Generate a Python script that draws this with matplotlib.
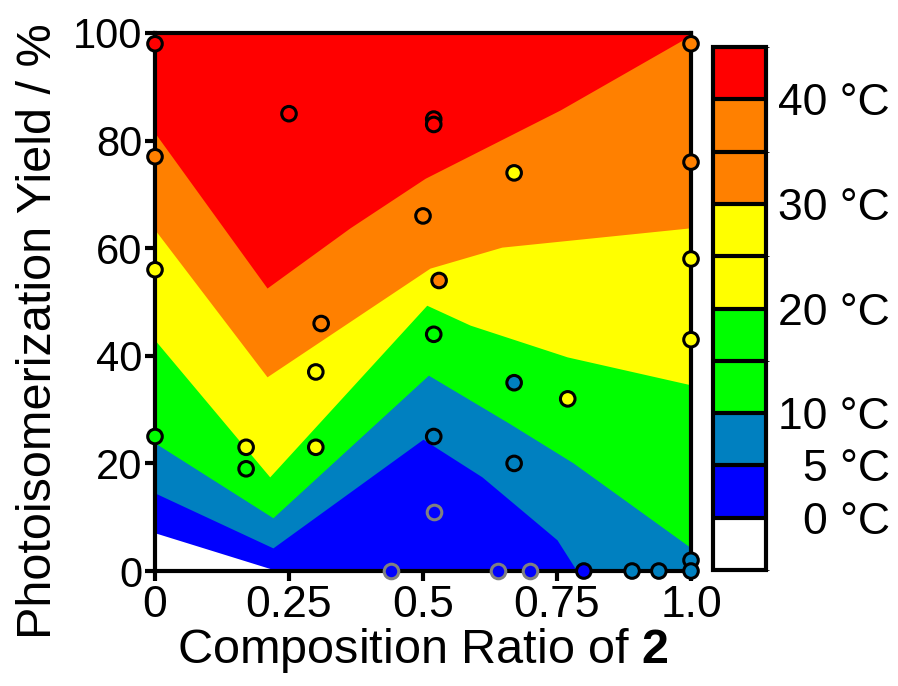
import numpy as np
import matplotlib
matplotlib.use("Agg")
import matplotlib.pyplot as plt
from matplotlib.colors import ListedColormap, BoundaryNorm
from matplotlib.cm import ScalarMappable

plt.rcParams["font.family"] = ["Liberation Sans", "DejaVu Sans"]
plt.rcParams["mathtext.fontset"] = "custom"
plt.rcParams["mathtext.rm"] = "Liberation Sans"
plt.rcParams["mathtext.bf"] = "Liberation Sans:bold"

# temperature boundaries (composition ratio, yield %)
b0_x = [0.0, 0.22, 1.0]
b0_y = [7.1, 0.3, 0.0]
b5_x = [0.0, 0.22, 0.50, 0.61, 0.75, 0.787, 1.0]
b5_y = [14.5, 4.3, 24.5, 17.5, 5.8, 0.0, 0.0]
b10_x = [0.0, 0.22, 0.51, 0.66, 0.78, 1.0]
b10_y = [23.8, 9.9, 36.4, 27.5, 20.1, 4.3]
b20_x = [0.0, 0.214, 0.507, 0.588, 0.769, 1.0]
b20_y = [42.9, 17.5, 49.4, 45.7, 39.8, 34.6]
b30_x = [0.0, 0.209, 0.513, 0.647, 1.0]
b30_y = [63.4, 36.1, 56.3, 60.2, 63.8]
b40_x = [0.0, 0.209, 0.364, 0.504, 0.756, 1.0]
b40_y = [81.4, 52.6, 63.8, 73.0, 85.7, 99.6]

# measured samples: ratio, yield, temperature class (degC)
ratio = [0.0, 0.25, 0.52, 0.52, 0.0, 0.50, 0.0, 0.53, 0.67, 1.0, 1.0, 1.0,
         0.31, 0.30, 0.52, 0.0, 0.17, 0.17, 0.30, 0.52, 0.67, 0.77, 1.0,
         0.67, 0.80, 0.89, 0.94, 1.0, 1.0]
yield_pct = [98, 85, 84, 83, 77, 66, 56, 54, 74, 98, 76, 58,
             46, 37, 44, 25, 23, 19, 23, 25, 35, 32, 43,
             20, 0, 0, 0, 2, 0]
temp = [45, 45, 45, 45, 35, 35, 25, 35, 25, 35, 35, 25,
        35, 25, 15, 15, 25, 15, 25, 7.5, 7.5, 25, 25,
        7.5, 2.5, 7.5, 7.5, 7.5, 7.5]

# samples without measurable response
grey_ratio = [0.52, 0.44, 0.64, 0.70]
grey_yield = [11, 0, 0, 0]

levels = [-5, 0, 5, 10, 15, 20, 25, 30, 35, 40, 45]
colors = ["white", "#0000FF", "#0080C0", "#00FF00", "#00FF00", "#FFFF00",
          "#FFFF00", "#FF8000", "#FF8000", "#FF0000"]
cbar_ticks = [0, 5, 10, 20, 30, 40]

cmap = ListedColormap(colors)
norm = BoundaryNorm(levels, cmap.N)

fig = plt.figure(figsize=(8.98, 6.86), dpi=100)
ax = fig.add_axes([0.1726, 0.1676, 0.5969, 0.7843])

# stack regions from the coldest upwards, each filled to the top
grid = np.unique(np.concatenate([b0_x, b5_x, b10_x, b20_x, b30_x, b40_x]))
bands = [(b0_x, b0_y, "#0000FF"), (b5_x, b5_y, "#0080C0"),
         (b10_x, b10_y, "#00FF00"), (b20_x, b20_y, "#FFFF00"),
         (b30_x, b30_y, "#FF8000"), (b40_x, b40_y, "#FF0000")]
for bx, by, col in bands:
    ax.fill_between(grid, np.interp(grid, bx, by), 100, color=col, lw=0)

ax.scatter(grey_ratio, grey_yield, s=110, c="#0000FF", edgecolors="#808080",
           linewidths=2.2, zorder=5, clip_on=False)
ax.scatter(ratio, yield_pct, s=110, c=temp, cmap=cmap, norm=norm,
           edgecolors="black", linewidths=2.2, zorder=6, clip_on=False)

ax.set_xlim(0, 1)
ax.set_ylim(0, 100)
ax.set_xticks([0, 0.25, 0.5, 0.75, 1.0])
ax.set_xticklabels(["0", "0.25", "0.5", "0.75", "1.0"])
ax.set_yticks([0, 20, 40, 60, 80, 100])
for sp in ax.spines.values():
    sp.set_linewidth(3)
    sp.set_zorder(4)
ax.tick_params(width=3, length=7)
ax.tick_params(axis="x", labelsize=32, pad=3)
ax.tick_params(axis="y", labelsize=30, pad=2)
ax.set_xlabel(r"Composition Ratio of $\mathbf{2}$", fontsize=35, labelpad=0)
ax.set_ylabel("Photoisomerization Yield / %", fontsize=35)
ax.yaxis.set_label_coords(-0.175, 0.445)

cax = fig.add_axes([0.794, 0.169, 0.059, 0.7624])
cb = fig.colorbar(ScalarMappable(norm=norm, cmap=cmap), cax=cax,
                  drawedges=True, ticks=cbar_ticks)
cb.outline.set_linewidth(3)
cb.dividers.set_linewidth(3)
cb.ax.set_yticklabels([f"{t} \u00b0C" for t in cbar_ticks])
cb.ax.tick_params(length=0, labelsize=32, pad=89)
for lab in cb.ax.get_yticklabels():
    lab.set_horizontalalignment("right")

fig.savefig("out.png", dpi=100)
